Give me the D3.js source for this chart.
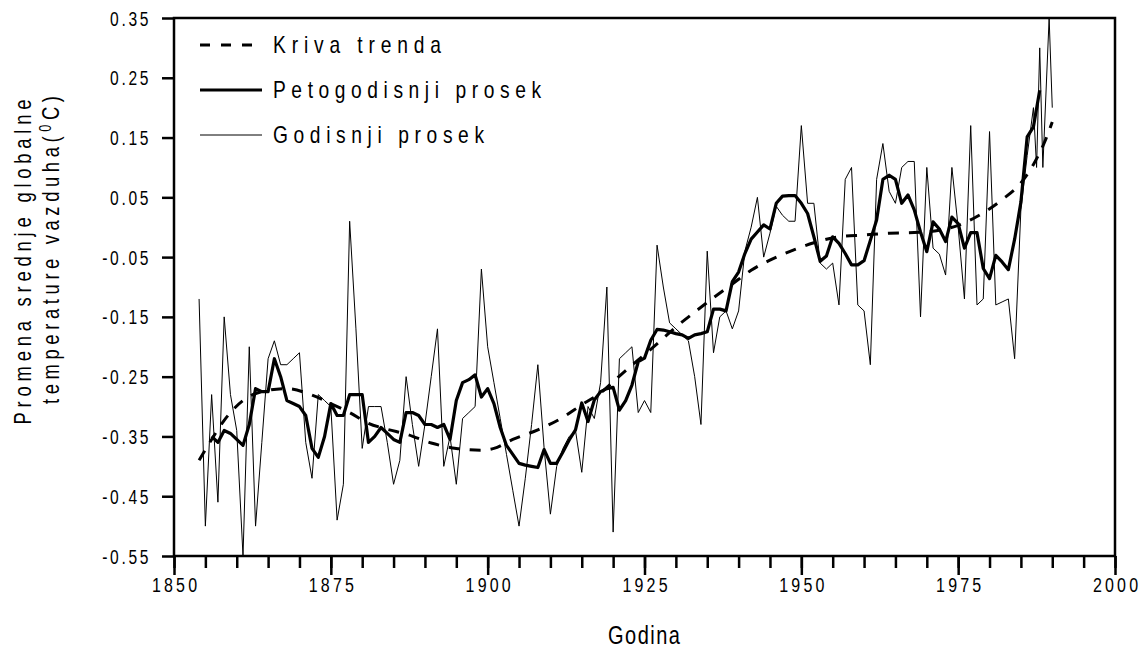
<!DOCTYPE html>
<html>
<head>
<meta charset=utf-8>
<title>Promena srednje globalne temperature</title>
<script src="https://cdn.jsdelivr.net/npm/d3@7/dist/d3.min.js"></script>
<style>
body{margin:0; background:#fff;}
svg text{font-family:"Liberation Sans",Arial,sans-serif; fill:#000;}
.axis line{stroke:#000; stroke-width:2.5;}
</style>
</head>
<body>
<svg id=chart width=1143 height=653></svg>
<script>
// godisnji prosek (1854..1987, zatim nekoliko tacaka na kraju)
var godisnjiGodine = d3.range(1854, 1988).concat([1987.5, 1988, 1988.5, 1989.5, 1990]);
var godisnji = [
  -0.12,-0.50,-0.28,-0.46,-0.15,-0.28,-0.34,-0.55,-0.20,-0.50,
  -0.36,-0.22,-0.19,-0.23,-0.23,-0.22,-0.21,-0.36,-0.42,-0.28,
  -0.29,-0.30,-0.49,-0.43, 0.01,-0.17,-0.37,-0.30,-0.30,-0.30,
  -0.36,-0.43,-0.39,-0.25,-0.33,-0.40,-0.33,-0.25,-0.17,-0.40,
  -0.35,-0.43,-0.32,-0.31,-0.30,-0.07,-0.20,-0.26,-0.32,-0.38,
  -0.44,-0.50,-0.42,-0.33,-0.23,-0.37,-0.48,-0.40,-0.37,-0.35,
  -0.34,-0.41,-0.30,-0.32,-0.26,-0.10,-0.51,-0.22,-0.21,-0.20,
  -0.31,-0.29,-0.31,-0.03,-0.10,-0.16,-0.17,-0.18,-0.19,-0.25,
  -0.33,-0.04,-0.21,-0.15,-0.14,-0.17,-0.14,-0.04, 0.00, 0.05,
  -0.05,-0.01, 0.035,0.02, 0.01, 0.01, 0.17, 0.04, 0.04,-0.06,
  -0.07,-0.06,-0.13, 0.08, 0.10,-0.13,-0.14,-0.23, 0.08, 0.14,
   0.06, 0.04, 0.10, 0.11, 0.11,-0.15, 0.10,-0.035,-0.045,-0.08,
   0.10, 0.00,-0.12, 0.17,-0.13,-0.12, 0.16,-0.13,-0.125,-0.12,
  -0.22, 0.03, 0.12, 0.20,
   0.10, 0.30, 0.10, 0.35, 0.20
];

// petogodisnji prosek 1856..1988
var petoGodine = d3.range(1856, 1989);
var petogodisnji = [
  -0.35,-0.36,-0.34,-0.345,-0.355,-0.365,-0.33,-0.27,-0.275,-0.275,
  -0.22,-0.25,-0.29,-0.295,-0.30,-0.315,-0.37,-0.385,-0.35,-0.295,
  -0.315,-0.315,-0.28,-0.28,-0.28,-0.36,-0.35,-0.335,-0.345,-0.355,
  -0.36,-0.31,-0.31,-0.315,-0.33,-0.33,-0.335,-0.33,-0.355,-0.29,
  -0.26,-0.255,-0.247,-0.284,-0.27,-0.295,-0.335,-0.365,-0.38,-0.395,
  -0.398,-0.40,-0.402,-0.372,-0.395,-0.395,-0.376,-0.356,-0.339,-0.294,
  -0.325,-0.289,-0.275,-0.27,-0.268,-0.306,-0.29,-0.264,-0.225,-0.219,
  -0.189,-0.171,-0.172,-0.175,-0.178,-0.18,-0.186,-0.18,-0.178,-0.175,
  -0.137,-0.137,-0.14,-0.091,-0.075,-0.044,-0.02,-0.008,0.004,-0.003,
   0.04,0.052,0.053,0.053,0.04,0.023,-0.016,-0.057,-0.048,-0.016,
  -0.027,-0.044,-0.063,-0.063,-0.056,-0.022,0.012,0.08,0.087,0.08,
   0.04,0.054,0.029,-0.008,-0.041,0.009,-0.003,-0.024,0.017,0.006,
  -0.035,-0.009,-0.009,-0.069,-0.086,-0.047,-0.058,-0.071,-0.02,0.042,
   0.151,0.168,0.229
];

// kriva trenda
var trendGodine = [1854,1856,1858,1861,1864,1868,1872,1875,1878,1881,1884,1887,1891,1895,1899,1901,1904,1908,1912,1915,1918,1921,1924,1927,1930,1933,1936,1939,1942,1945,1949,1952,1956,1960,1964,1968,1972,1975,1978,1982,1985,1987,1989,1990];
var trend = [-0.39,-0.355,-0.323,-0.29,-0.275,-0.27,-0.281,-0.295,-0.31,-0.328,-0.338,-0.346,-0.361,-0.37,-0.373,-0.37,-0.355,-0.339,-0.318,-0.297,-0.277,-0.249,-0.222,-0.195,-0.167,-0.142,-0.118,-0.095,-0.072,-0.055,-0.037,-0.026,-0.016,-0.013,-0.01,-0.009,-0.005,0.003,0.018,0.046,0.074,0.105,0.148,0.176];

var yTicks = [0.35,0.25,0.15,0.05,-0.05,-0.15,-0.25,-0.35,-0.45,-0.55];
var xMajor = [1850,1875,1900,1925,1950,1975,2000];
var xMinor = d3.range(1850, 2001, 5);

var legendaNazivi = ['Kriva trenda', 'Petogodisnji prosek', 'Godisnji prosek'];

//plot area
var plot = {left: 174, right: 1115, top: 18, bottom: 556};
var narrowK = 0.8;  //horizontal squeeze, no narrow font installed

var svg = d3.select('#chart');

var x = d3.scaleLinear().domain([1850, 2000]).range([plot.left, plot.right]);
var y = d3.scaleLinear().domain([-0.55, 0.35]).range([plot.bottom, plot.top]);

//axes
var gxMinor = svg.append('g')
    .attr('class', 'axis')
    .attr('transform', 'translate(0,' + plot.bottom + ')')
    .call(d3.axisBottom(x).tickValues(xMinor).tickSize(12).tickFormat(''));
gxMinor.select('.domain').remove();

var gx = svg.append('g')
    .attr('class', 'axis')
    .attr('transform', 'translate(0,' + plot.bottom + ')')
    .call(d3.axisBottom(x).tickValues(xMajor).tickSize(19).tickPadding(3).tickFormat(d3.format('d')));
gx.select('.domain').remove();
gx.selectAll('text')
    .attr('font-size', 20)
    .attr('dx', 2)
    .attr('transform', 'scale(' + narrowK + ',1)')
    .style('letter-spacing', '4px');

var gy = svg.append('g')
    .attr('class', 'axis')
    .attr('transform', 'translate(' + plot.left + ',0)')
    .call(d3.axisLeft(y).tickValues(yTicks).tickSize(12).tickFormat(d => d.toFixed(2)));
gy.select('.domain').remove();
gy.selectAll('text')
    .attr('font-size', 19.5)
    .attr('x', -23 / narrowK)
    .attr('dy', '0.36em')
    .attr('transform', 'scale(' + narrowK + ',1)')
    .style('letter-spacing', '3.3px');

//frame
svg.append('rect')
    .attr('x', plot.left)
    .attr('y', plot.top)
    .attr('width', plot.right - plot.left)
    .attr('height', plot.bottom - plot.top)
    .attr('fill', 'none')
    .attr('stroke', '#000')
    .attr('stroke-width', 2.5);

//lines
var line = d3.line()
    .x(d => x(d[0]))
    .y(d => y(d[1]));

svg.append('path')
    .datum(d3.zip(godisnjiGodine, godisnji))
    .attr('fill', 'none')
    .attr('stroke', '#000')
    .attr('stroke-width', 1)
    .attr('d', line);

svg.append('path')
    .datum(d3.zip(petoGodine, petogodisnji))
    .attr('fill', 'none')
    .attr('stroke', '#000')
    .attr('stroke-width', 3.2)
    .attr('stroke-linejoin', 'round')
    .attr('d', line);

svg.append('path')
    .datum(d3.zip(trendGodine, trend))
    .attr('fill', 'none')
    .attr('stroke', '#000')
    .attr('stroke-width', 3)
    .attr('stroke-dasharray', '11,10')
    .attr('d', line.curve(d3.curveMonotoneX));

//legend
var legendStyles = [
  {w: 3, dash: '10,11', x2: 255, len: 168},
  {w: 3.2, dash: null, x2: 262, len: 268},
  {w: 1, dash: null, x2: 262, len: 211}
];
var legend = svg.append('g');
legendaNazivi.forEach(function(name, i){
  var ly = 45 + i * 45;
  legend.append('line')
      .attr('x1', 200).attr('x2', legendStyles[i].x2)
      .attr('y1', ly).attr('y2', ly)
      .attr('stroke', '#000')
      .attr('stroke-width', legendStyles[i].w)
      .attr('stroke-dasharray', legendStyles[i].dash);
  legend.append('text')
      .attr('transform', 'translate(273,' + (ly + 8) + ') scale(' + narrowK + ',1)')
      .attr('font-size', 24)
      .attr('textLength', legendStyles[i].len / narrowK)
      .attr('lengthAdjust', 'spacing')
      .text(name);
});

//axis titles
svg.append('text')
    .attr('text-anchor', 'middle')
    .attr('transform', 'translate(644,644) scale(' + narrowK + ',1)')
    .attr('font-size', 25)
    .attr('textLength', 72 / narrowK)
    .attr('lengthAdjust', 'spacing')
    .text('Godina');

svg.append('text')
    .attr('text-anchor', 'middle')
    .attr('transform', 'translate(31,262) rotate(-90) scale(' + narrowK + ',1)')
    .attr('font-size', 23)
    .attr('textLength', 325 / narrowK)
    .attr('lengthAdjust', 'spacing')
    .text('Promena srednje globalne');

var yTitle2 = svg.append('text')
    .attr('text-anchor', 'middle')
    .attr('transform', 'translate(59,250) rotate(-90) scale(' + narrowK + ',1)')
    .attr('font-size', 23)
    .attr('textLength', 308 / narrowK)
    .attr('lengthAdjust', 'spacing');
yTitle2.append('tspan')
    .text('temperature vazduha(');
yTitle2.append('tspan')
    .attr('font-size', 16)
    .attr('dy', -8)
    .text('0');
yTitle2.append('tspan')
    .attr('dy', 8)
    .text('C)');
</script>
</body>
</html>
